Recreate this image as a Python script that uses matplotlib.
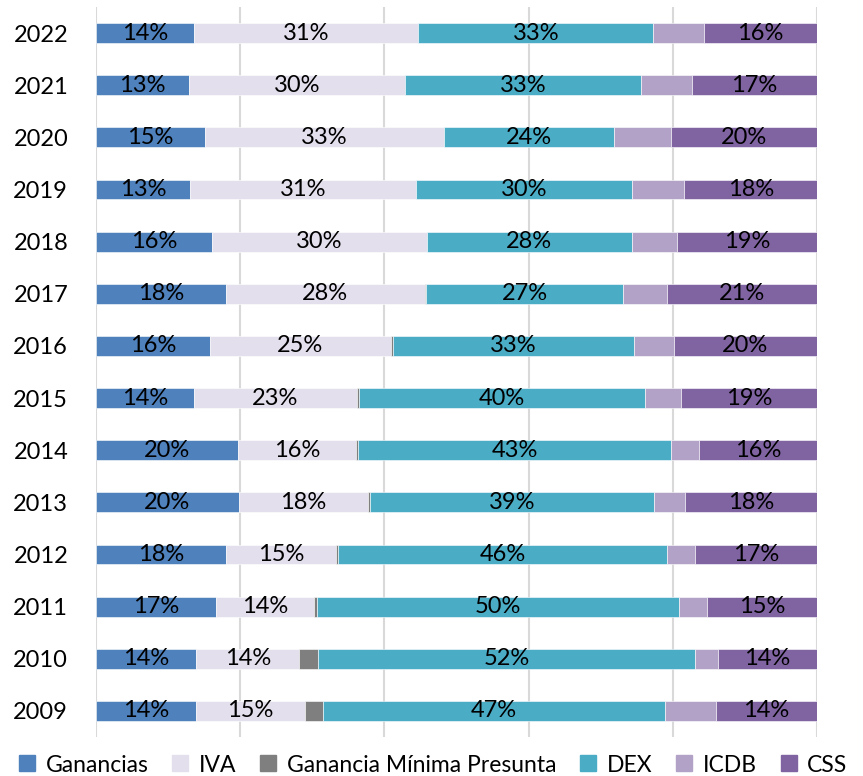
import matplotlib
matplotlib.use("Agg")
import matplotlib.pyplot as plt
from matplotlib.lines import Line2D
import numpy as np

plt.rcParams['font.family'] = ['Lato', 'DejaVu Sans']

years = ["2009", "2010", "2011", "2012", "2013", "2014", "2015", "2016",
         "2017", "2018", "2019", "2020", "2021", "2022"]
series = ["Ganancias", "IVA", "Ganancia Mínima Presunta", "DEX", "ICDB", "CSS"]
ganancias = [13.9, 13.9, 16.6, 18.0, 19.8, 19.7, 13.6, 15.8, 18.0, 16.1, 13.0, 15.1, 12.9, 13.6]
iva       = [15.1, 14.3, 13.7, 15.3, 17.9, 16.4, 22.6, 25.1, 27.6, 29.8, 31.4, 33.1, 30.0, 31.1]
gmp       = [2.5, 2.6, 0.3, 0.3, 0.3, 0.3, 0.3, 0.3, 0.2, 0.0, 0.0, 0.0, 0.0, 0.0]
dex       = [47.4, 52.3, 50.3, 45.6, 39.4, 43.4, 39.6, 33.4, 27.3, 28.4, 30.0, 23.7, 32.7, 32.6]
icdb      = [7.1, 3.2, 3.8, 3.9, 4.3, 3.9, 5.0, 5.5, 6.1, 6.3, 7.2, 7.9, 7.0, 7.0]
css       = [14.0, 13.7, 15.3, 16.9, 18.3, 16.3, 18.9, 19.9, 20.8, 19.4, 18.4, 20.2, 17.4, 15.7]

data = [ganancias, iva, gmp, dex, icdb, css]
colors = ["#4f81bd", "#e4dfec", "#7f7f7f", "#4bacc6", "#b3a2c7", "#8064a2"]
labeled = [True, True, False, True, False, True]

fig = plt.figure(figsize=(8.63, 7.76), dpi=100)
ax = fig.add_axes([96/863, 1-737/776, (817-96)/863, (737-7)/776])

y = np.arange(len(years))
left = np.zeros(len(years))
for vals, col, lab, name in zip(data, colors, labeled, series):
    vals = np.array(vals)
    ax.barh(y, vals, left=left, height=0.38, color=col,
            edgecolor="white", linewidth=0.4, label=name, zorder=3)
    if lab:
        for yi, l, v in zip(y, left, vals):
            ax.text(l + v/2, yi, f"{v:.0f}%", ha="center", va="center",
                    fontsize=17, color="black", zorder=4)
    left = left + vals

ax.set_xlim(0, 100)
ax.set_ylim(-0.5, len(years) - 0.5)
ax.set_yticks(y)
ax.set_yticklabels(years, fontsize=17)
ax.tick_params(axis="y", length=0, pad=20)
ax.set_xticks([0, 20, 40, 60, 80, 100])
ax.tick_params(axis="x", length=0, labelbottom=False)
ax.grid(axis="x", color="#d9d9d9", linewidth=1.5, zorder=0)
for s in ax.spines.values():
    s.set_visible(False)

handles = [Line2D([0], [0], marker="s", linestyle="none", markersize=11,
                  markerfacecolor=c, markeredgecolor=c) for c in colors]
fig.legend(handles, series, loc="center", bbox_to_anchor=(0.5, 1-765/776),
           ncol=6, frameon=False, fontsize=16.5, handletextpad=0.3,
           columnspacing=0.9, handlelength=1.0, borderpad=0)

fig.savefig("out.png", dpi=100)
